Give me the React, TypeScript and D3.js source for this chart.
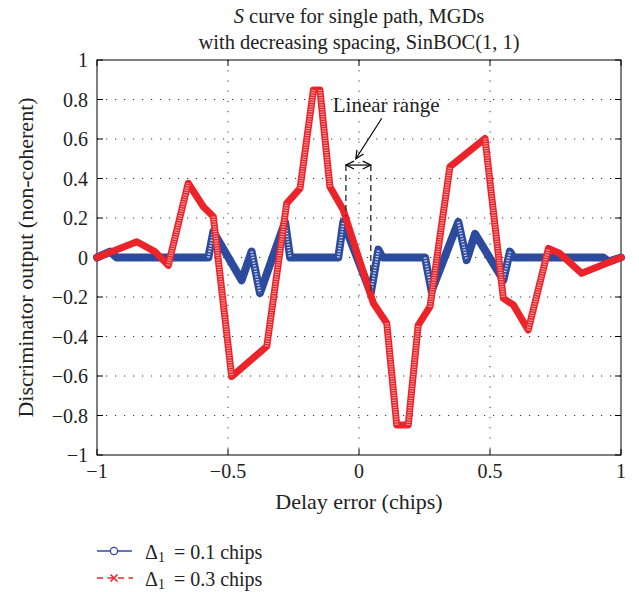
import React from "react";
import { scaleLinear, line as d3_line } from "d3";

// Delay error (chips) / discriminator output (break points)
const narrowDelay = [-1, -0.95, -0.925, -0.575, -0.556, -0.448, -0.41, -0.378, -0.282, -0.263, -0.079, -0.06, 0.045, 0.074, 0.09, 0.252, 0.277, 0.379, 0.411, 0.443, 0.551, 0.576, 0.59, 0.932, 0.952, 1];
const narrowOutput = [0, 0.03, 0, 0, 0.13, -0.115, 0.03, -0.18, 0.18, 0, 0, 0.18, -0.18, 0.04, 0, 0, -0.17, 0.18, -0.013, 0.12, -0.115, 0.03, 0, 0, -0.02, 0];

const wideDelay = [-1, -0.848, -0.779, -0.728, -0.652, -0.594, -0.556, -0.486, -0.352, -0.276, -0.225, -0.174, -0.149, -0.111, -0.06, 0.055, 0.106, 0.144, 0.188, 0.226, 0.271, 0.347, 0.481, 0.551, 0.589, 0.646, 0.723, 0.767, 0.85, 1];
const wideOutput = [0, 0.08, 0.03, -0.04, 0.376, 0.257, 0.207, -0.603, -0.45, 0.274, 0.35, 0.848, 0.848, 0.358, 0.24, -0.232, -0.333, -0.848, -0.848, -0.342, -0.249, 0.46, 0.603, -0.207, -0.24, -0.367, 0.046, 0.02, -0.08, 0];

const xTicks = [-1, -0.5, 0, 0.5, 1];
const yTicks = [-1, -0.8, -0.6, -0.4, -0.2, 0, 0.2, 0.4, 0.6, 0.8, 1];

const titleLines = ["curve for single path, MGDs", "with decreasing spacing, SinBOC(1, 1)"];
const legendLabels = ["= 0.1 chips", "= 0.3 chips"];

// annotation: linear range bounds, the curve value where each dashed line ends
const linearRange = [-0.05, 0.045];
const linearRangeEnds = [0.207, -0.18];
const linearRangeLevel = 0.468;
const pointerFrom = [0.087, 0.705];
const pointerTo = [-0.012, 0.5];
const labelAt = [-0.1, 0.735];

const BLUE = "#2d4b9e";
const RED = "#ec2329";
const FONT = "'Liberation Serif', 'DejaVu Serif', serif";

const fmt = (v: number) => {
    const s = String(Math.round(v * 10) / 10);
    return s.replace("-", "\u2212");
};

const arrowHead = (x: number, y: number, angle: number, len = 9, spread = 0.45) => {
    const a1 = angle + Math.PI - spread;
    const a2 = angle + Math.PI + spread;
    return `M${x + len * Math.cos(a1)},${y + len * Math.sin(a1)}L${x},${y}L${x + len * Math.cos(a2)},${y + len * Math.sin(a2)}`;
};

export default function App() {
    const width = 639;
    const height = 592;

    const x = scaleLinear().domain([-1, 1]).range([97, 621]);
    const y = scaleLinear().domain([-1, 1]).range([455, 60]);

    const pts = (xs: number[], ys: number[]) => xs.map((d, i) => [d, ys[i]] as [number, number]);
    const line = d3_line<[number, number]>()
        .x((d) => x(d[0]))
        .y((d) => y(d[1]));

    const narrow = pts(narrowDelay, narrowOutput);
    const wide = pts(wideDelay, wideOutput);

    // steep segments look hollow because the markers spread apart
    const steep = (p: [number, number][]) =>
        p.slice(1).map((d, i) => [p[i], d] as [number, number][])
            .filter(([a, b]) => Math.abs((y(b[1]) - y(a[1])) / (x(b[0]) - x(a[0]))) > 3.2);

    const [x0, x1] = x.range();
    const [yb, yt] = y.range();

    const px = x(pointerFrom[0]);
    const py = y(pointerFrom[1]);
    const tx = x(pointerTo[0]);
    const ty = y(pointerTo[1]);
    const lx = x(linearRange[0]);
    const rx = x(linearRange[1]);
    const ly = y(linearRangeLevel);

    return (
        <svg width={width} height={height} style={{ position: "absolute", left: 0, top: 0, background: "#fff" }} fontFamily={FONT}>
            {/* title */}
            <text x={(x0 + x1) / 2} y={23} textAnchor="middle" fontSize={20.5} fill="#222">
                <tspan fontStyle="italic">S</tspan> {titleLines[0]}
            </text>
            <text x={(x0 + x1) / 2} y={49} textAnchor="middle" fontSize={20.5} fill="#222">{titleLines[1]}</text>

            {/* grid */}
            {yTicks.slice(1, -1).map((t) => (
                <line key={"gy" + t} x1={x0} x2={x1} y1={y(t)} y2={y(t)} stroke="#333" strokeDasharray="1.2 7.8" strokeWidth={1} />
            ))}
            {xTicks.slice(1, -1).map((t) => (
                <line key={"gx" + t} x1={x(t)} x2={x(t)} y1={yt} y2={yb} stroke="#333" strokeDasharray="1.2 9" strokeWidth={1} />
            ))}

            {/* ticks, inside on every side */}
            {yTicks.map((t) => (
                <g key={"ty" + t} stroke="#000">
                    <line x1={x0} x2={x0 + 6} y1={y(t)} y2={y(t)} />
                    <line x1={x1} x2={x1 - 6} y1={y(t)} y2={y(t)} />
                </g>
            ))}
            {xTicks.map((t) => (
                <g key={"tx" + t} stroke="#000">
                    <line x1={x(t)} x2={x(t)} y1={yb} y2={yb - 6} />
                    <line x1={x(t)} x2={x(t)} y1={yt} y2={yt + 6} />
                </g>
            ))}
            <rect x={x0} y={yt} width={x1 - x0} height={yb - yt} fill="none" stroke="#000" strokeWidth={1} />

            {/* tick labels */}
            {yTicks.map((t) => (
                <text key={"ly" + t} x={x0 - 9} y={y(t)} dy="0.35em" textAnchor="end" fontSize={20} fill="#222">{fmt(t)}</text>
            ))}
            {xTicks.map((t) => (
                <text key={"lx" + t} x={x(t)} y={478} textAnchor="middle" fontSize={20} fill="#222">{fmt(t)}</text>
            ))}

            {/* axis labels */}
            <text x={(x0 + x1) / 2} y={509} textAnchor="middle" fontSize={22} fill="#222">Delay error (chips)</text>
            <text transform={`translate(33,${(yt + yb) / 2}) rotate(-90)`} textAnchor="middle" fontSize={22} fill="#222">
                Discriminator output (non-coherent)
            </text>

            {/* Δ1 = 0.1 */}
            <path d={line(narrow) ?? ""} fill="none" stroke={BLUE} strokeWidth={8} strokeLinejoin="round" strokeLinecap="round" />
            {steep(narrow).map((s, i) => (
                <path key={"bs" + i} d={line(s) ?? ""} fill="none" stroke="#fff" strokeOpacity={0.75} strokeWidth={3} strokeDasharray="1.2 1.6" />
            ))}

            {/* Δ1 = 0.3 */}
            <path d={line(wide) ?? ""} fill="none" stroke={RED} strokeWidth={7} strokeLinejoin="round" strokeLinecap="round" />
            {steep(wide).map((s, i) => (
                <path key={"rs" + i} d={line(s) ?? ""} fill="none" stroke="#fff" strokeOpacity={0.6} strokeWidth={4} strokeDasharray="1 1.4" />
            ))}

            {/* linear range annotation */}
            <g stroke="#333" strokeWidth={1.4} fill="none">
                <line x1={lx} x2={lx} y1={ly} y2={y(linearRangeEnds[0])} strokeDasharray="6 4" />
                <line x1={rx} x2={rx} y1={ly} y2={y(linearRangeEnds[1])} strokeDasharray="6 4" />
            </g>
            <g stroke="#000" strokeWidth={1.2} fill="none">
                <line x1={lx} x2={rx} y1={ly} y2={ly} />
                <path d={arrowHead(lx, ly, Math.PI)} />
                <path d={arrowHead(rx, ly, 0)} />
                <line x1={px} y1={py} x2={tx} y2={ty} />
                <path d={arrowHead(tx, ty, Math.atan2(ty - py, tx - px))} />
            </g>
            <text x={x(labelAt[0])} y={y(labelAt[1])} fontSize={21} fill="#222">Linear range</text>

            {/* legend */}
            <g>
                <line x1={97} x2={132} y1={551} y2={551} stroke={BLUE} strokeWidth={1.3} />
                <circle cx={114} cy={551} r={3.6} fill="#fff" stroke={BLUE} strokeWidth={1.3} />
                <text x={145} y={559} fontSize={20} fill="#222">
                    Δ<tspan fontSize={14} dy={3}>1</tspan><tspan dy={-3} dx={9}>{legendLabels[0]}</tspan>
                </text>
                <line x1={97} x2={133} y1={578} y2={578} stroke={RED} strokeWidth={1.3} strokeDasharray="6 4.5" />
                <path d="M110.5,574.5L117.5,581.5M117.5,574.5L110.5,581.5" stroke={RED} strokeWidth={1.6} />
                <text x={145} y={586} fontSize={20} fill="#222">
                    Δ<tspan fontSize={14} dy={3}>1</tspan><tspan dy={-3} dx={9}>{legendLabels[1]}</tspan>
                </text>
            </g>
        </svg>
    );
}
